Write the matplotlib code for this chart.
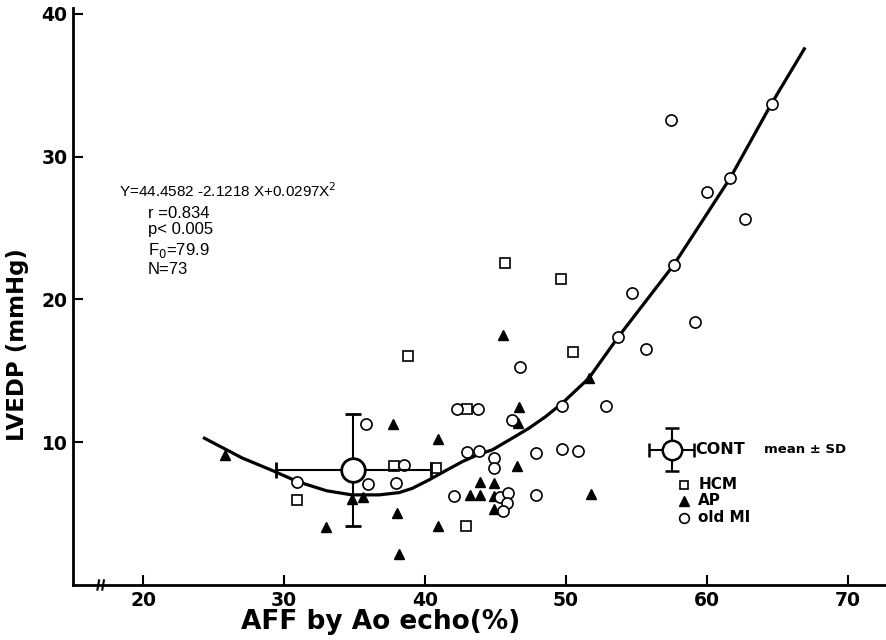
import matplotlib
matplotlib.use("Agg")
import matplotlib.pyplot as plt

# HCM (open squares)
hcm_x = [30.9, 37.8, 38.8, 40.8, 42.9, 43.0, 45.7, 49.65, 50.5]
hcm_y = [5.96, 8.34, 16.03, 8.18, 4.16, 12.31, 22.54, 21.44, 16.28]

# AP (filled triangles)
ap_x = [25.8, 33.0, 34.8, 35.6, 37.75, 38.0, 38.16, 40.9, 40.9, 43.2, 43.9,
        43.9, 44.9, 44.9, 44.9, 45.5, 46.55, 46.67, 46.62, 51.63, 51.77]
ap_y = [9.11, 4.09, 6.03, 6.15, 11.28, 5.02, 2.17, 10.21, 4.16, 6.29, 7.24,
        6.29, 7.13, 6.24, 5.35, 17.52, 8.34, 12.45, 11.33, 14.48, 6.36]

# old MI (open circles)
mi_x = [30.94, 35.84, 35.98, 37.92, 38.51, 42.04, 42.29, 43.76, 42.98, 43.85,
        44.91, 44.91, 45.34, 45.91, 45.84, 45.53, 46.19, 46.76, 47.89, 47.85,
        49.74, 49.74, 50.85, 52.82, 53.69, 54.66, 55.67, 57.45, 57.66, 59.17,
        60.02, 61.68, 62.72, 64.61]
mi_y = [7.24, 11.30, 7.06, 7.13, 8.37, 6.24, 12.31, 12.31, 9.30, 9.39,
        8.92, 8.18, 6.19, 6.43, 5.77, 5.21, 11.56, 15.28, 9.27, 6.31,
        12.54, 9.55, 9.39, 12.54, 17.34, 20.44, 16.52, 32.59, 22.42, 18.43,
        27.54, 28.52, 25.63, 33.71]

# control group mean +- SD
cont_x, cont_y = 34.9, 8.07
cont_sdx, cont_sdy = 5.5, 3.91

# regression curve as drawn in the figure
curve_x = [24.33, 27.0, 29.22, 30.94, 33.0, 34.8, 36.74, 38.16, 39.1, 40.28,
           41.47, 42.65, 43.83, 44.77, 46.19, 47.38, 48.56, 49.74, 51.63,
           53.69, 57.66, 59.43, 61.68, 64.59, 66.93]
curve_y = [10.28, 8.9, 7.99, 7.24, 6.6, 6.31, 6.31, 6.47, 6.77, 7.36,
           8.01, 8.64, 9.16, 9.46, 10.28, 10.98, 11.79, 12.73, 14.48,
           17.33, 22.42, 25.1, 28.52, 33.69, 37.54]

x_ticks = [20, 30, 40, 50, 60, 70]
y_ticks = [10, 20, 30, 40]

fig = plt.figure(figsize=(8.87, 6.40), dpi=100)
ax = fig.add_axes([73 / 887, 55 / 640, 814 / 887, 577 / 640])
ax.set_xlim(15, 72.8)
ax.set_ylim(0, 40.4)

for s in ["top", "right"]:
    ax.spines[s].set_visible(False)
for s in ["left", "bottom"]:
    ax.spines[s].set_linewidth(2)

ax.set_xticks(x_ticks)
ax.set_yticks(y_ticks)
ax.tick_params(direction="in", length=7, width=1.5, labelsize=13.5, pad=4)
for lab in ax.get_xticklabels() + ax.get_yticklabels():
    lab.set_fontweight("bold")

# axis break marks
for dx in [0.031, 0.037]:
    ax.plot([dx - 0.001, dx + 0.001], [-0.008, 0.008], transform=ax.transAxes,
            color="black", lw=1.5, clip_on=False)

ax.plot(curve_x, curve_y, color="black", lw=2.3, zorder=2,
        solid_joinstyle="round")

ax.plot(hcm_x, hcm_y, "s", ms=6.5, mfc="white", mec="black", mew=1.2, zorder=3)
ax.plot(ap_x, ap_y, "^", ms=7.5, color="black", zorder=3)
ax.plot(mi_x, mi_y, "o", ms=8, mfc="white", mec="black", mew=1.2, zorder=3)

ax.errorbar(cont_x, cont_y, xerr=cont_sdx, yerr=cont_sdy, fmt="o", ms=17,
            mfc="white", mec="black", mew=2, ecolor="black", elinewidth=1.5,
            capsize=6, capthick=1.5, zorder=4)

# legend drawn by hand
ax.errorbar(57.5, 9.46, xerr=1.6, yerr=1.5, fmt="o", ms=14, mfc="white",
            mec="black", mew=1.8, ecolor="black", elinewidth=1.5, capsize=5,
            capthick=1.5, zorder=4)
ax.text(59.2, 9.46, "CONT", fontsize=11.5, fontweight="bold", va="center")
ax.text(64.1, 9.46, "mean ± SD", fontsize=9.5, fontweight="bold", va="center")
ax.plot([58.4], [7.02], "s", ms=6, mfc="white", mec="black", mew=1.2)
ax.plot([58.4], [5.9], "^", ms=7, color="black")
ax.plot([58.4], [4.7], "o", ms=7, mfc="white", mec="black", mew=1.2)
ax.text(59.4, 7.02, "HCM", fontsize=11, fontweight="bold", va="center")
ax.text(59.4, 5.9, "AP", fontsize=11, fontweight="bold", va="center")
ax.text(59.4, 4.7, "old MI", fontsize=11, fontweight="bold", va="center")

# regression statistics
stat_font = "Liberation Sans"
ax.text(18.3, 27.6, "Y=44.4582 -2.1218 X+0.0297X$^2$", fontsize=11,
        family=stat_font, va="center")
ax.text(20.3, 26.0, "r =0.834", fontsize=12, family=stat_font, va="center")
ax.text(20.3, 24.9, "p< 0.005", fontsize=12, family=stat_font, va="center")
ax.text(20.3, 23.4, "F$_0$=79.9", fontsize=12, family=stat_font, va="center")
ax.text(20.3, 22.1, "N=73", fontsize=12, family=stat_font, va="center")

ax.text(-0.068, 0.416, "LVEDP (mmHg)", transform=ax.transAxes, rotation=90,
        fontsize=16.5, fontweight="bold", ha="center", va="center")
ax.text(0.378, -0.064, "AFF by Ao echo(%)", transform=ax.transAxes,
        fontsize=19, fontweight="bold", ha="center", va="center")

fig.savefig("out.png", dpi=100)
